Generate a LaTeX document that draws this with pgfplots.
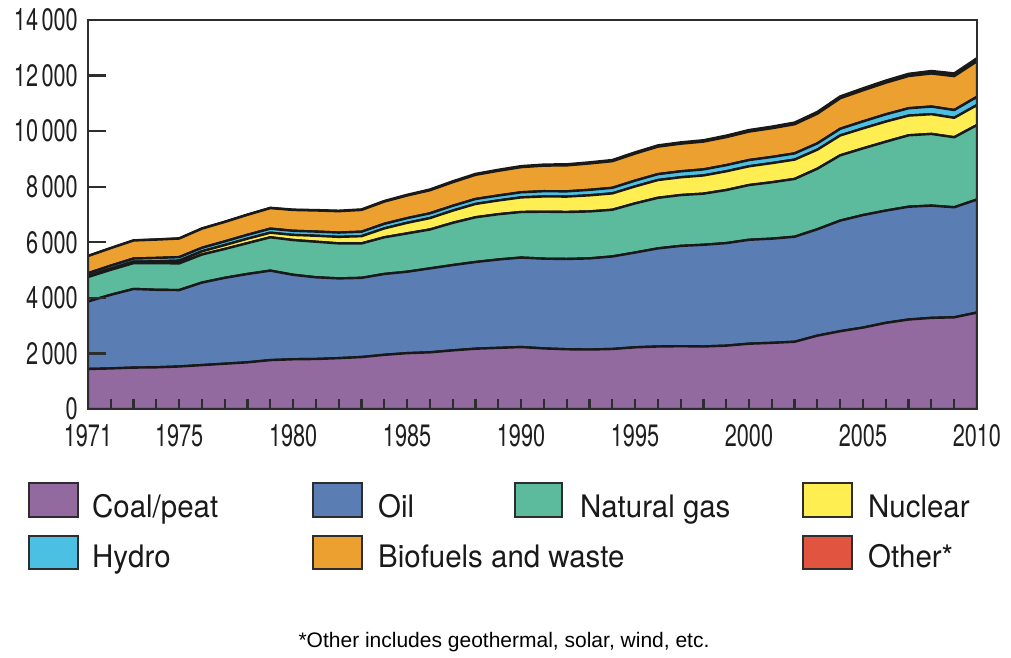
\documentclass[border=0pt]{standalone}
\usepackage{pgfplots}
\pgfplotsset{compat=1.18}
\usepackage{pgfplotstable}
\usepackage{fontspec}
\setmainfont{TeX Gyre Heros}
\newfontfamily\tickfont{TeX Gyre Heros}[FakeStretch=0.7]
\newfontfamily\legfont{TeX Gyre Heros}[FakeStretch=0.95]
\newfontfamily\notefont{Liberation Sans}
\definecolor{coal}{RGB}{146,106,160}
\definecolor{oil}{RGB}{90,126,180}
\definecolor{gas}{RGB}{92,186,157}
\definecolor{nuclear}{RGB}{255,238,82}
\definecolor{hydro}{RGB}{76,192,226}
\definecolor{bio}{RGB}{236,160,48}
\definecolor{other}{RGB}{224,84,64}
\definecolor{axisgray}{RGB}{45,45,45}
\definecolor{edge}{RGB}{25,25,25}

\pgfplotstableread{
year coal oil gas nuclear hydro bio other
1971 1440 2430 880 30 105 620 4
1972 1460 2650 900 40 110 630 4
1973 1490 2830 930 53 112 650 5
1974 1500 2790 960 65 122 660 5
1975 1530 2750 960 100 125 670 6
1976 1580 2970 1010 115 127 690 7
1977 1630 3090 1040 140 132 700 8
1978 1680 3180 1110 160 140 720 9
1979 1760 3220 1200 165 145 740 10
1980 1790 3040 1250 185 148 750 12
1981 1800 2940 1280 215 150 760 14
1982 1830 2870 1260 235 154 770 16
1983 1870 2850 1240 260 160 785 18
1984 1950 2910 1320 320 165 800 22
1985 2010 2930 1380 380 169 815 25
1986 2040 3020 1400 410 172 830 28
1987 2110 3070 1520 440 173 850 31
1988 2170 3120 1610 480 178 870 33
1989 2200 3180 1630 495 178 890 36
1990 2230 3220 1640 525 184 905 37
1991 2180 3230 1690 550 189 920 38
1992 2150 3250 1690 555 188 935 39
1993 2140 3280 1690 580 197 950 40
1994 2160 3330 1680 590 199 960 41
1995 2220 3410 1770 610 209 975 43
1996 2250 3530 1820 640 212 990 45
1997 2260 3610 1830 640 214 995 47
1998 2250 3660 1840 655 218 1000 49
1999 2280 3690 1910 675 221 1010 52
2000 2350 3740 1970 675 225 1025 55
2001 2380 3750 2030 690 220 1035 57
2002 2420 3780 2080 695 224 1050 60
2003 2640 3830 2180 685 226 1070 62
2004 2800 3980 2350 715 240 1100 66
2005 2930 4050 2400 720 251 1120 70
2006 3100 4040 2480 725 260 1140 75
2007 3220 4060 2570 710 264 1160 80
2008 3280 4040 2580 710 275 1190 90
2009 3300 3960 2520 700 280 1220 98
2010 3470 4070 2680 720 296 1280 110
}\datatable

\begin{document}
\begin{tikzpicture}
\path[use as bounding box] (-88pt,-248pt) rectangle (923pt,409pt);
\begin{axis}[
  at={(0pt,0pt)}, anchor=south west,
  scale only axis, width=889pt, height=389pt,
  xmin=1971, xmax=2010, ymin=0, ymax=14000,
  stack plots=y, axis on top,
  scaled y ticks=false,
  axis line style={line width=2.6pt, color=axisgray},
  xtick={1971,1972,...,2010},
  xticklabels={1971,{},{},{},1975,{},{},{},{},1980,{},{},{},{},1985,{},{},{},{},1990,{},{},{},{},1995,{},{},{},{},2000,{},{},{},{},2005,{},{},{},{},2010},
  ytick={0,2000,4000,6000,8000,10000,12000,14000},
  yticklabels={0,2\hspace{3.5pt}000,4\hspace{3.5pt}000,6\hspace{3.5pt}000,8\hspace{3.5pt}000,10\hspace{3.5pt}000,12\hspace{3.5pt}000,14\hspace{3.5pt}000},
  xtick pos=bottom, ytick pos=left,
  tick align=inside,
  major tick length=18pt,
  xtick style={/pgfplots/major tick length=10pt},
  tick style={line width=2.2pt, color=axisgray},
  tick label style={font=\tickfont\fontsize{31}{33}\selectfont, text=black!88, inner sep=0pt},
  xticklabel style={yshift=-15pt},
  yticklabel style={xshift=-10pt},
  every axis plot/.append style={draw=edge, line width=2.4pt, line join=round, mark=none},
]
\addplot[fill=coal] table[x=year,y=coal]{\datatable} \closedcycle;
\addplot[fill=oil] table[x=year,y=oil]{\datatable} \closedcycle;
\addplot[fill=gas] table[x=year,y=gas]{\datatable} \closedcycle;
\addplot[fill=nuclear] table[x=year,y=nuclear]{\datatable} \closedcycle;
\addplot[fill=hydro] table[x=year,y=hydro]{\datatable} \closedcycle;
\addplot[fill=bio] table[x=year,y=bio]{\datatable} \closedcycle;
\addplot[fill=other] table[x=year,y=other]{\datatable} \closedcycle;
\end{axis}
\tikzset{legbox/.style={draw=axisgray, line width=2pt}, legtxt/.style={anchor=base west, inner sep=0pt, font=\legfont\fontsize{31}{31}\selectfont, text=black!90}}
\draw[legbox, fill=coal] (-59pt,-108pt) rectangle (-10pt,-74pt);
\node[legtxt] at (4pt,-108pt) {Coal/peat};
\draw[legbox, fill=oil] (225pt,-108pt) rectangle (274pt,-74pt);
\node[legtxt] at (290pt,-108pt) {Oil};
\draw[legbox, fill=gas] (427pt,-108pt) rectangle (474pt,-74pt);
\node[legtxt] at (492pt,-108pt) {Natural gas};
\draw[legbox, fill=nuclear] (715pt,-108pt) rectangle (764pt,-74pt);
\node[legtxt] at (780pt,-108pt) {Nuclear};
\draw[legbox, fill=hydro] (-59pt,-160pt) rectangle (-10pt,-127pt);
\node[legtxt] at (4pt,-158pt) {Hydro};
\draw[legbox, fill=bio] (225pt,-160pt) rectangle (274pt,-127pt);
\node[legtxt] at (290pt,-158pt) {Biofuels and waste};
\draw[legbox, fill=other] (715pt,-160pt) rectangle (764pt,-127pt);
\node[legtxt] at (780pt,-158pt) {Other*};
\node[anchor=base, inner sep=0pt, font=\notefont\fontsize{21}{21}\selectfont] at (416pt,-238pt) {*Other includes geothermal, solar, wind, etc.};
\end{tikzpicture}
\end{document}
